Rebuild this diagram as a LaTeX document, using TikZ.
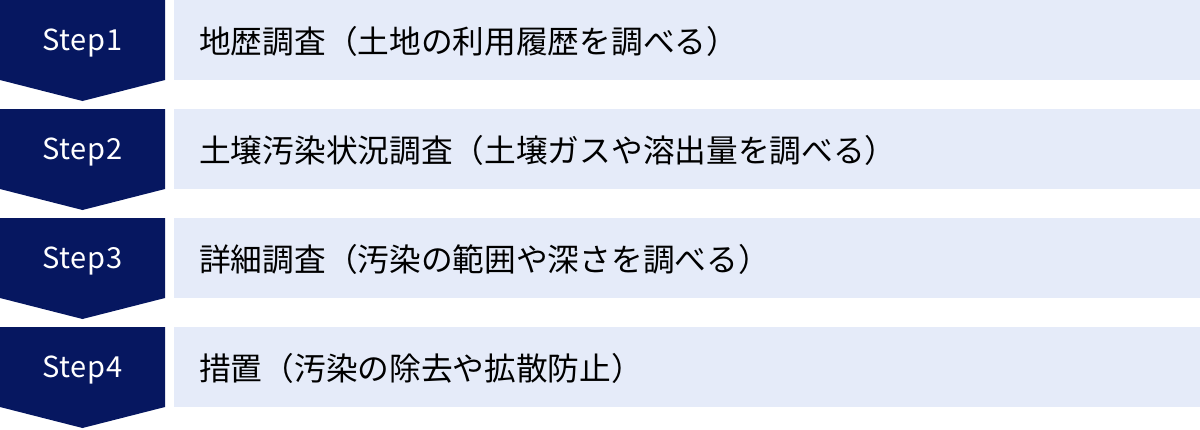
\documentclass[tikz,border=0pt]{standalone}
\usepackage{fontspec}
\newfontfamily\jpfont{Noto Sans CJK JP}
\newfontfamily\stepfont[LetterSpace=2]{Noto Sans CJK JP}
\usetikzlibrary{positioning}
\definecolor{stepnavy}{RGB}{6,23,96}
\definecolor{rowblue}{RGB}{229,235,249}

\begin{document}
\begin{tikzpicture}[x=1pt,y=-1pt]
            \useasboundingbox (0,0) rectangle (1200,429);
            \tikzset{
                steplabel/.style={text=white,inner sep=0pt,font=\stepfont\fontsize{29}{29}\selectfont},
                desclabel/.style={anchor=west,text=black,inner sep=0pt,font=\jpfont\fontsize{31.7}{31.7}\selectfont}
            }
            \foreach \i/\txt in {1/{地歴調査（土地の利用履歴を調べる）},
                                 2/{土壌汚染状況調査（土壌ガスや溶出量を調べる）},
                                 3/{詳細調査（汚染の範囲や深さを調べる）},
                                 4/{措置（汚染の除去や拡散防止）}}{
                \pgfmathsetmacro{\ytop}{(\i-1)*109}
                \fill[stepnavy] (0,\ytop) -- (165,\ytop) -- (165,\ytop+80)
                    -- (82.5,\ytop+101) -- (0,\ytop+80) -- cycle;
                \fill[rowblue] (174,\ytop) rectangle (1200,\ytop+80);
                \node[steplabel] (step\i) at (82.5,\ytop+43) {Step\i};
                \node[desclabel] (desc\i) at (199,\ytop+41) {\txt};
            }
        \end{tikzpicture}
\end{document}
